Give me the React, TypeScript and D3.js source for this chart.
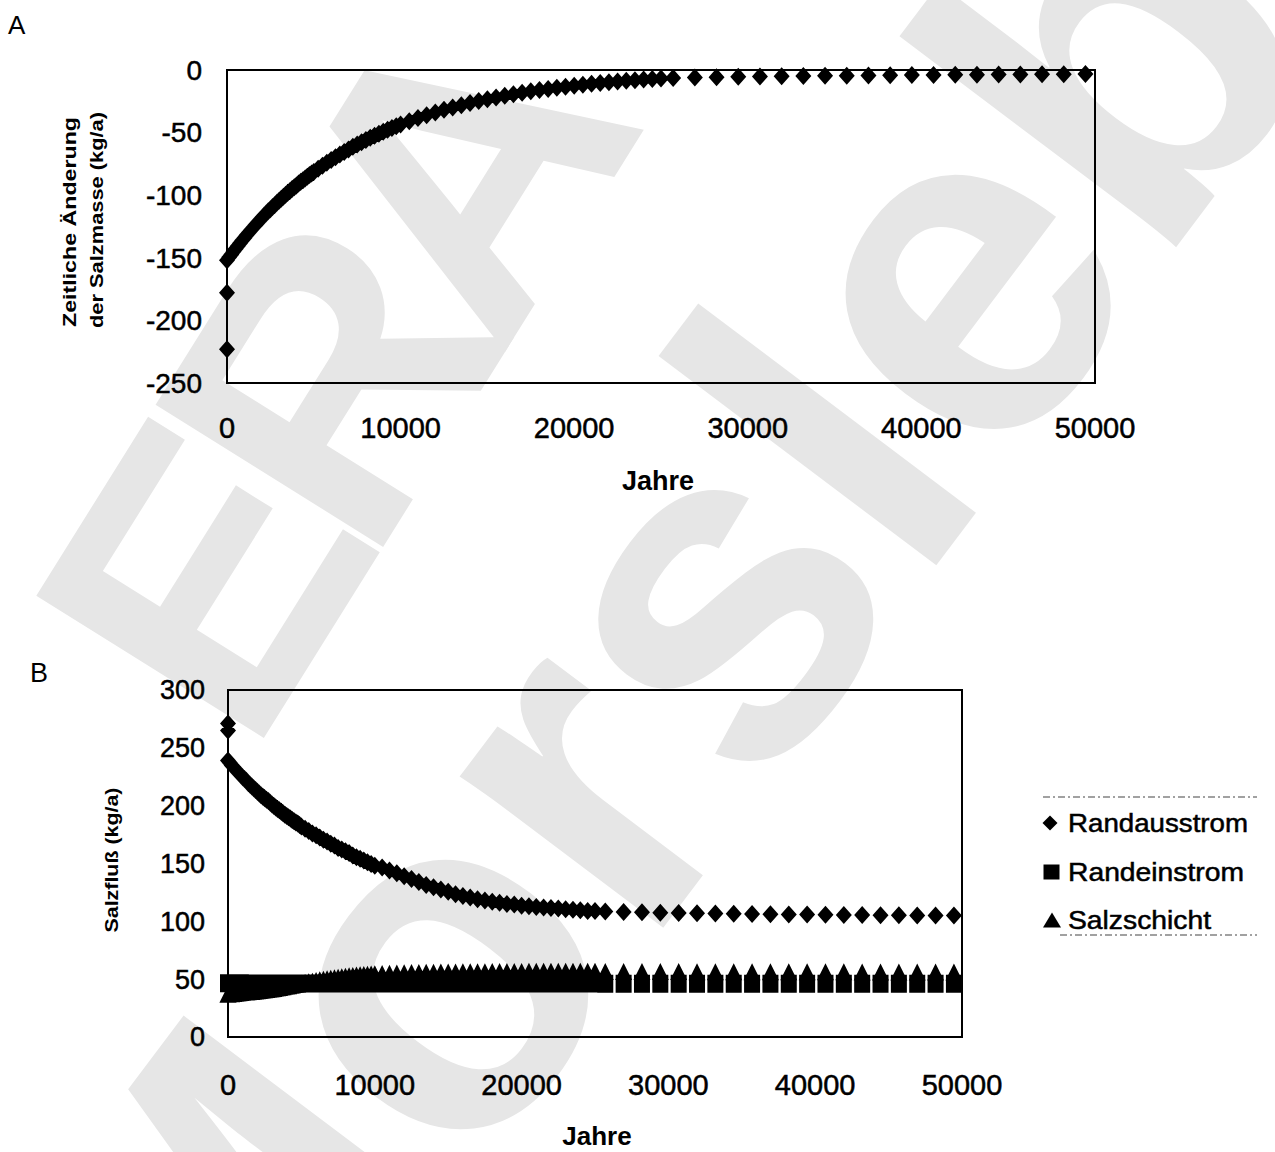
import React from 'react';
import * as d3 from 'd3';

// ---------- data ----------
const years = [
  0, 0, 0,
  125, 250, 375, 500, 625, 750, 875, 1000, 1125, 1250, 1375, 1500, 1625, 1750, 1875, 2000, 2125, 2250, 2375, 2500,
  2625, 2750, 2875, 3000, 3125, 3250, 3375, 3500, 3625, 3750, 3875, 4000, 4125, 4250, 4375, 4500, 4625, 4750, 4875, 5000,
  5250, 5500, 5750, 6000, 6250, 6500, 6750, 7000, 7250, 7500, 7750, 8000, 8250, 8500, 8750, 9000, 9250, 9500, 9750, 10000,
  10500, 11000, 11500, 12000, 12500, 13000, 13500, 14000, 14500, 15000, 15500, 16000, 16500, 17000, 17500, 18000,
  18500, 19000, 19500, 20000, 20500, 21000, 21500, 22000, 22500, 23000, 23500, 24000, 24500, 25000,
  25700, 26950, 28200, 29450, 30700, 31950, 33200, 34450, 35700, 36950, 38200, 39450, 40700, 41950, 43200, 44450,
  45700, 46950, 48200, 49450,
];

// Panel A: Zeitliche Änderung der Salzmasse (kg/a)
const aenderung = [
  -223, -178, -152,
  -149.6, -147.3, -145.0, -142.8, -140.6, -138.4, -136.2, -134.1, -132.0, -130.0, -128.0, -126.0, -124.0, -122.1,
  -120.2, -118.4, -116.5, -114.7, -112.9, -111.2, -109.5, -107.8, -106.1, -104.5, -102.8, -101.2, -99.7, -98.1,
  -96.6, -95.1, -93.6, -92.2, -90.7, -89.3, -88.0, -86.6, -85.3, -83.9, -82.6, -81.4,
  -78.9, -76.4, -74.1, -71.8, -69.6, -67.4, -65.4, -63.4, -61.4, -59.5, -57.7, -55.9, -54.2, -52.5, -50.9, -49.3,
  -47.8, -46.3, -44.9, -43.5,
  -40.9, -38.4, -36.1, -33.9, -31.8, -29.9, -28.1, -26.4, -24.8, -23.3, -21.9, -20.6, -19.3, -18.1, -17.0, -16.0,
  -15.1, -14.1, -13.3, -12.5, -11.7, -11.0, -10.4, -9.7, -9.2, -8.6, -8.1, -7.6, -7.1, -6.7,
  -6.3, -6.0, -5.7, -5.4, -5.2, -5.0, -4.8, -4.6, -4.5, -4.3, -4.2, -4.0, -3.9, -3.8, -3.7, -3.6, -3.5, -3.4, -3.3, -3.2,
];

// Panel B: Salzfluß (kg/a)
const randausstrom = [
  271, 265, 239,
  237, 235, 233.2, 231.5, 229.7, 228, 226.2, 224.5, 223, 221.5, 219.7, 218, 216.5, 215, 213.5, 212, 210.5, 209,
  207.7, 206.5, 205.2, 204, 202.5, 201, 199.7, 198.5, 197.2, 196, 194.7, 193.5, 192.2, 191, 190, 189, 187.7, 186.5,
  185.5, 184.5, 183.2, 182,
  180, 178, 176, 174.5, 172.5, 170.5, 169, 167, 165.5, 163.5, 162, 160.5, 159, 157, 155.5, 154, 152.5, 151, 149.5, 148,
  146.5, 144, 141.5, 139, 136.5, 134, 131.5, 129.5, 127.5, 125.5, 123.5, 122, 120.5, 119, 118, 117,
  116, 115, 114.5, 113.5, 113, 112.5, 112, 111.5, 111, 110.5, 110, 109.5, 109, 109,
  108.5, 108, 107.8, 107.5, 107.3, 107, 106.8, 106.6, 106.4, 106.2, 106, 105.8, 105.6, 105.5, 105.4, 105.3,
  105.2, 105.1, 105, 105,
];

const randeinstrom = [
  46.5, 46.5, 46.5,
  46.5, 46.4, 46.4, 46.4, 46.4, 46.4, 46.4, 46.3, 46.3, 46.3, 46.3, 46.3, 46.3, 46.3, 46.3, 46.3, 46.3, 46.2,
  46.2, 46.2, 46.2, 46.2, 46.2, 46.2, 46.2, 46.2, 46.2, 46.2, 46.2, 46.2, 46.2, 46.2, 46.2, 46.2, 46.2, 46.2,
  46.2, 46.2, 46.2, 46.2,
  46.2, 46.2, 46.2, 46.2, 46.2, 46.2, 46.2, 46.2, 46.2, 46.2, 46.2, 46.2, 46.2, 46.2, 46.2, 46.2, 46.2, 46.2, 46.2, 46.2,
  46.2, 46.2, 46.2, 46.2, 46.2, 46.2, 46.2, 46.2, 46.2, 46.2, 46.2, 46.2, 46.2, 46.2, 46.2, 46.2,
  46.2, 46.2, 46.2, 46.2, 46.2, 46.2, 46.2, 46.2, 46.2, 46.2, 46.2, 46.2, 46.2, 46.2,
  46.1, 46.1, 46.1, 46.1, 46.1, 46.1, 46.1, 46.1, 46.1, 46.1, 46.0, 46.0, 46.0, 46.0, 46.0, 46.0,
  46.0, 46.0, 46.0, 46.0,
];

const salzschicht = [
  37, 37, 37.2,
  37.3, 37.5, 37.7, 37.9, 38.1, 38.3, 38.5, 38.7, 38.8, 39.0, 39.1, 39.3, 39.4, 39.6, 39.8, 40.0, 40.2, 40.4,
  40.6, 40.8, 41.0, 41.3, 41.5, 41.8, 42.0, 42.3, 42.6, 42.9, 43.2, 43.5, 43.8, 44.1, 44.4, 44.7, 45.0, 45.3,
  45.6, 45.9, 46.2, 46.5,
  47.1, 47.7, 48.3, 48.9, 49.4, 49.9, 50.4, 50.9, 51.3, 51.7, 52.1, 52.5, 52.9, 53.2, 53.5, 53.8, 54.0, 54.2, 54.4, 54.6,
  54.9, 55.1, 55.3, 55.5, 55.7, 55.8, 55.9, 56.0, 56.1, 56.2, 56.3, 56.4, 56.4, 56.5, 56.5, 56.6,
  56.6, 56.7, 56.7, 56.7, 56.8, 56.8, 56.8, 56.8, 56.8, 56.8, 56.8, 56.8, 56.8, 56.8,
  56.7, 56.7, 56.6, 56.6, 56.6, 56.5, 56.5, 56.5, 56.5, 56.4, 56.4, 56.4, 56.4, 56.4, 56.3, 56.3,
  56.3, 56.3, 56.3, 56.3,
];

const xTicks = [0, 10000, 20000, 30000, 40000, 50000];
const yTicksA = [0, -50, -100, -150, -200, -250];
const yTicksB = [0, 50, 100, 150, 200, 250, 300];
const legendLabels = ['Randausstrom', 'Randeinstrom', 'Salzschicht'];
const watermarkTop = 'ERA';
const watermarkBottom = 'Morsleben';

// ---------- drawing helpers ----------
const FONT = 'Arial, "Liberation Sans", Helvetica, sans-serif';

const diamond = (cx: number, cy: number, hw: number, hh: number) =>
  `M${cx},${cy - hh}L${cx + hw},${cy}L${cx},${cy + hh}L${cx - hw},${cy}Z`;
const square = (cx: number, cy: number, hw: number, hh: number) =>
  `M${cx - hw},${cy - hh}H${cx + hw}V${cy + hh}H${cx - hw}Z`;
const triangle = (cx: number, cy: number, hw: number, hh: number) =>
  `M${cx},${cy - hh}L${cx + hw},${cy + hh}L${cx - hw},${cy + hh}Z`;

export default function App() {
  // Panel A scales
  const xA = d3.scaleLinear().domain([0, 50000]).range([227, 1095]);
  const yA = d3.scaleLinear().domain([-250, 0]).range([383, 70]);
  // Panel B scales
  const xB = d3.scaleLinear().domain([0, 50000]).range([228, 962]);
  const yB = d3.scaleLinear().domain([0, 300]).range([1037, 690]);

  const pathA = years.map((t, i) => diamond(xA(t), yA(aenderung[i]), 8, 9)).join('');
  const pathAus = years.map((t, i) => diamond(xB(t), yB(randausstrom[i]), 8, 9)).join('');
  const pathEin = years.map((t, i) => square(xB(t), yB(randeinstrom[i]), 8, 9)).join('');
  const pathSalz = years.map((t, i) => triangle(xB(t), yB(salzschicht[i]), 8.5, 8.5)).join('');

  const legendY = [823, 872, 920];
  const legendPaths = [
    diamond(1050, legendY[0], 7.5, 7.5),
    square(1051.5, legendY[1], 8, 7.5),
    triangle(1052, legendY[2], 9, 7.5),
  ];
  const legendLens = [180, 176, 143];
  const tickStroke = { stroke: '#000', strokeWidth: 0.5 };

  return (
    <svg
      width={1275}
      height={1152}
      viewBox="0 0 1275 1152"
      style={{ position: 'absolute', left: 0, top: 0, background: '#fff' }}
      fontFamily={FONT}
    >
      <rect x={0} y={0} width={1275} height={1152} fill="#fff" />

      {/* watermark */}
      <g fill="#e6e6e6" fontWeight="bold">
        <text transform="translate(250,760) rotate(-58)" fontSize={390} letterSpacing={-35}>{watermarkTop}</text>
        <text transform="translate(226,1508) rotate(-53)" fontSize={480}>{watermarkBottom}</text>
      </g>

      {/* ---------------- Panel A ---------------- */}
      <text x={8} y={34} fontSize={26} fill="#000">A</text>
      <rect x={227} y={70} width={868} height={313} fill="none" stroke="#000" strokeWidth={2} />
      {yTicksA.map((v) => (
        <text key={'ya' + v} x={202} y={yA(v)} dy="0.35em" fontSize={28} textAnchor="end" fill="#000" {...tickStroke}>
          {v}
        </text>
      ))}
      {xTicks.map((v) => (
        <text key={'xa' + v} x={xA(v)} y={438} fontSize={29} textAnchor="middle" fill="#000" {...tickStroke}>
          {v}
        </text>
      ))}
      <text x={658} y={490} fontSize={27} fontWeight="bold" textAnchor="middle" fill="#000">Jahre</text>
      <text transform="translate(76,222) rotate(-90)" fontSize={18} fontWeight="bold" textAnchor="middle"
        textLength={210} lengthAdjust="spacingAndGlyphs" fill="#000">Zeitliche Änderung</text>
      <text transform="translate(103,220) rotate(-90)" fontSize={18} fontWeight="bold" textAnchor="middle"
        textLength={216} lengthAdjust="spacingAndGlyphs" fill="#000">der Salzmasse (kg/a)</text>
      <path d={pathA} fill="#000" />

      {/* ---------------- Panel B ---------------- */}
      <text x={30} y={682} fontSize={27} fill="#000">B</text>
      <rect x={228} y={690} width={734} height={347} fill="none" stroke="#000" strokeWidth={2} />
      {yTicksB.map((v) => (
        <text key={'yb' + v} x={205} y={yB(v)} dy="0.35em" fontSize={27} textAnchor="end" fill="#000" {...tickStroke}>
          {v}
        </text>
      ))}
      {xTicks.map((v) => (
        <text key={'xb' + v} x={xB(v)} y={1095} fontSize={29} textAnchor="middle" fill="#000" {...tickStroke}>
          {v}
        </text>
      ))}
      <text x={597} y={1145} fontSize={26} fontWeight="bold" textAnchor="middle" fill="#000">Jahre</text>
      <text transform="translate(118,860) rotate(-90)" fontSize={18} fontWeight="bold" textAnchor="middle"
        textLength={145} lengthAdjust="spacingAndGlyphs" fill="#000">Salzfluß (kg/a)</text>
      <path d={pathAus} fill="#000" />
      <path d={pathEin} fill="#000" />
      <path d={pathSalz} fill="#000" />

      {/* legend */}
      <line x1={1043} x2={1257} y1={797} y2={797} stroke="#444" strokeWidth={1.2} strokeDasharray="7,3,2,3" />
      <line x1={1060} x2={1257} y1={935} y2={935} stroke="#444" strokeWidth={1.2} strokeDasharray="7,3,2,3" />
      {legendLabels.map((l, i) => (
        <g key={l}>
          <path d={legendPaths[i]} fill="#000" />
          <text x={1068} y={legendY[i]} dy="0.36em" fontSize={25} fill="#000" {...tickStroke}
            textLength={legendLens[i]} lengthAdjust="spacingAndGlyphs">{l}</text>
        </g>
      ))}
    </svg>
  );
}
